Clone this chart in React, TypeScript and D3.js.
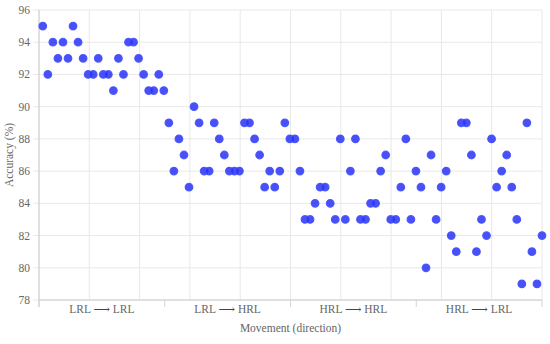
import React, { useEffect, useRef } from 'react';
import * as d3 from 'd3';

// accuracy per trial (100 points)
const accuracy = [
  95, 92, 94, 93, 94, 93, 95, 94, 93, 92,
  92, 93, 92, 92, 91, 93, 92, 94, 94, 93,
  92, 91, 91, 92, 91, 89, 86, 88, 87, 85,
  90, 89, 86, 86, 89, 88, 87, 86, 86, 86,
  89, 89, 88, 87, 85, 86, 85, 86, 89, 88,
  88, 86, 83, 83, 84, 85, 85, 84, 83, 88,
  83, 86, 88, 83, 83, 84, 84, 86, 87, 83,
  83, 85, 88, 83, 86, 85, 80, 87, 83, 85,
  86, 82, 81, 89, 89, 87, 81, 83, 82, 88,
  85, 86, 87, 85, 83, 79, 89, 81, 79, 82,
];

const moveFrom = ['LRL', 'LRL', 'HRL', 'HRL'];
const moveTo = ['LRL', 'HRL', 'HRL', 'LRL'];
const yTicks = [78, 80, 82, 84, 86, 88, 90, 92, 94, 96];

const FONT = '"Liberation Serif", "DejaVu Serif", serif';

const App: React.FC = () => {
  const svgRef = useRef<SVGSVGElement>(null);

  useEffect(() => {
    if (!svgRef.current) return;
    const svg = d3.select(svgRef.current);
    svg.selectAll('*').remove();

    const left = 39;
    const right = 542;
    const top = 10;
    const bottom = 300;

    const y = d3.scaleLinear().domain([78, 96]).range([bottom, top]);
    const x = d3.scaleLinear().domain([0.25, accuracy.length]).range([left, right]);
    const grid = d3.scaleLinear().domain([0, 10]).range([left, right]);
    const cats = moveFrom.map((f, i) => `${f}-${moveTo[i]}-${i}`);
    const band = d3.scaleBand().domain(cats).range([left, right]);

    // grid
    svg
      .append('g')
      .selectAll('line')
      .data(d3.range(0, 11))
      .enter()
      .append('line')
      .attr('x1', (d) => grid(d))
      .attr('x2', (d) => grid(d))
      .attr('y1', top)
      .attr('y2', bottom)
      .attr('stroke', '#e8e8e8')
      .attr('stroke-width', 1);

    svg
      .append('g')
      .selectAll('line')
      .data(yTicks)
      .enter()
      .append('line')
      .attr('x1', left - 6)
      .attr('x2', right)
      .attr('y1', (d) => y(d))
      .attr('y2', (d) => y(d))
      .attr('stroke', '#e8e8e8')
      .attr('stroke-width', 1);

    // axis lines
    svg
      .append('line')
      .attr('x1', left)
      .attr('x2', left)
      .attr('y1', top)
      .attr('y2', bottom + 7)
      .attr('stroke', '#cccccc');
    svg
      .append('line')
      .attr('x1', left)
      .attr('x2', right)
      .attr('y1', bottom)
      .attr('y2', bottom)
      .attr('stroke', '#cccccc');

    // category ticks
    const edges = cats.map((c) => band(c) || 0).concat([right]);
    svg
      .append('g')
      .selectAll('line')
      .data(edges)
      .enter()
      .append('line')
      .attr('x1', (d) => d)
      .attr('x2', (d) => d)
      .attr('y1', bottom)
      .attr('y2', bottom + 7)
      .attr('stroke', '#d4d4d4');

    // y tick labels
    svg
      .append('g')
      .selectAll('text')
      .data(yTicks)
      .enter()
      .append('text')
      .attr('x', 30)
      .attr('y', (d) => y(d))
      .attr('dy', '0.35em')
      .attr('text-anchor', 'end')
      .attr('font-family', FONT)
      .attr('font-size', 11.5)
      .attr('fill', '#666')
      .text((d) => d);

    // category labels
    const lab = svg
      .append('g')
      .selectAll('text')
      .data(cats)
      .enter()
      .append('text')
      .attr('x', (d) => (band(d) || 0) + band.bandwidth() / 2)
      .attr('y', bottom + 13)
      .attr('text-anchor', 'middle')
      .attr('font-family', FONT)
      .attr('font-size', 11.5)
      .attr('fill', '#666');
    lab.append('tspan').text((d, i) => moveFrom[i]);
    lab.append('tspan').attr('fill', '#444').text(' \u27F6 ');
    lab.append('tspan').text((d, i) => moveTo[i]);

    // axis titles
    svg
      .append('text')
      .attr('x', (left + right) / 2)
      .attr('y', 332)
      .attr('text-anchor', 'middle')
      .attr('font-family', FONT)
      .attr('font-size', 11.5)
      .attr('fill', '#666')
      .text('Movement (direction)');

    svg
      .append('text')
      .attr('transform', `translate(13,${(top + bottom) / 2}) rotate(-90)`)
      .attr('text-anchor', 'middle')
      .attr('font-family', FONT)
      .attr('font-size', 11.5)
      .attr('fill', '#666')
      .text('Accuracy (%)');

    // points
    svg
      .append('g')
      .selectAll('circle')
      .data(accuracy)
      .enter()
      .append('circle')
      .attr('cx', (d, i) => x(i + 1))
      .attr('cy', (d) => y(d))
      .attr('r', 3.8)
      .attr('fill', 'rgba(40, 50, 245, 0.85)')
      .attr('stroke', 'rgba(70, 80, 255, 0.9)')
      .attr('stroke-width', 1.2);
  }, []);

  return (
    <svg
      ref={svgRef}
      width="550"
      height="344"
      style={{ position: 'absolute', left: 0, top: 0, background: '#fff' }}
    />
  );
};

export default App;
